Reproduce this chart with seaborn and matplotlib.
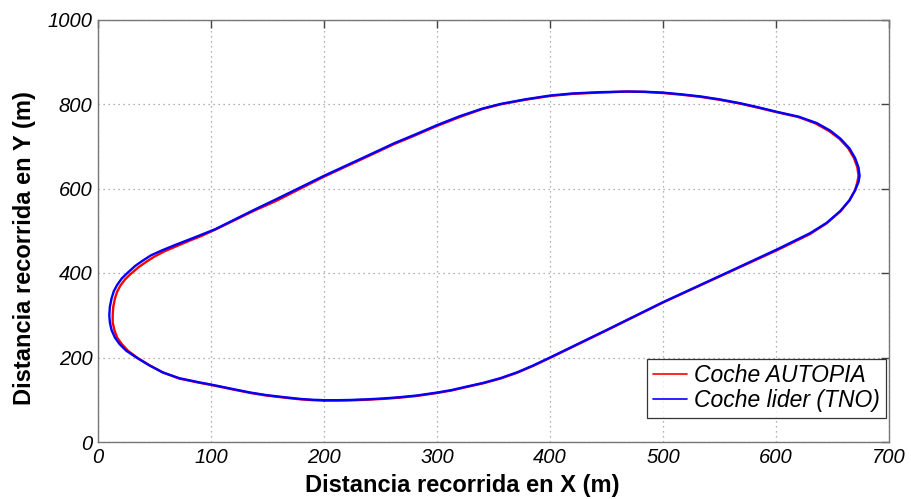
import numpy as np
import pandas as pd
import matplotlib
matplotlib.use("Agg")
import matplotlib.pyplot as plt
import seaborn as sns

# Trajectory of the leader car (TNO)
tno_x = [200, 212, 223, 238, 252, 267, 282, 300, 313, 326, 341, 356, 371, 385, 400, 450, 500, 556,
         601, 630, 645, 657, 665, 670, 673, 674, 673, 670, 665, 657, 648, 636, 620, 600, 583, 568,
         550, 533, 516, 500, 484, 468, 444, 420, 400, 378, 356, 340, 320, 300, 280, 262, 238, 200,
         158, 137, 104, 90, 80, 68, 57, 47, 40, 33, 26, 21, 17, 14, 12, 10.5, 10, 10.5, 12, 15,
         19, 25, 34, 45, 57, 72, 90, 100, 120, 135, 149, 165, 179, 190, 200]
tno_y = [99, 99, 99.5, 101, 103, 106, 110, 117, 123, 131, 140, 151, 165, 181, 200, 265, 331, 400,
         456, 494, 519, 547, 572, 596, 615, 630, 650, 672, 695, 718, 737, 755, 770, 782, 793, 802,
         811, 818, 823, 827, 829, 829.5, 828, 825, 820, 811, 800, 789, 771, 750, 727, 707, 677, 630,
         575, 548, 504, 489, 478.5, 466, 454, 442, 430, 417, 400, 387, 372, 357, 340, 320, 300, 283, 265, 247,
         232, 216, 200, 182, 165, 151, 141, 136, 125, 117, 111, 106, 102, 100, 99]

# Trajectory of the AUTOPIA car
aut_x = [200, 212, 223, 238, 252, 267, 282, 300, 313, 326, 341, 356, 371, 385, 400, 450, 500, 556,
         601, 630, 645, 657, 665, 670, 672, 673, 672, 669, 664, 656, 647, 635, 620, 600, 583, 568,
         550, 533, 516, 500, 484, 468, 444, 420, 400, 378, 356, 340, 320, 300, 280, 262, 238, 200,
         158, 137, 104, 91, 81, 70, 59, 50, 43, 36, 29, 24, 20, 17, 15, 13.5, 13, 13, 14.5, 17,
         21, 26.5, 35, 46, 58, 72, 90, 100, 120, 135, 149, 165, 179, 190, 200]
aut_y = [98, 98, 98.5, 100, 102, 105, 109, 116, 122, 130, 139, 150, 164, 180, 199, 264, 330, 399,
         454, 492, 518, 546, 572, 596, 615, 630, 650, 672, 695, 718, 736, 754, 769, 781, 792, 801,
         810, 817, 822, 826, 828.5, 829.5, 827, 824, 819, 810, 799, 788, 769, 748, 725, 705, 675, 628,
         571, 546, 503, 487, 476.5, 464, 451.5, 439, 427, 414, 398, 385, 371, 356, 340, 320, 300, 283, 265, 247,
         232, 216, 199, 181, 164, 150, 140, 135, 124, 116, 110, 105, 101, 99, 98]

labels = ["Coche AUTOPIA", "Coche lider (TNO)"]
x_ticks = [0, 100, 200, 300, 400, 500, 600, 700]
y_ticks = [0, 200, 400, 600, 800, 1000]

df = pd.concat([
    pd.DataFrame({"x": aut_x, "y": aut_y, "serie": labels[0]}),
    pd.DataFrame({"x": tno_x, "y": tno_y, "serie": labels[1]}),
], ignore_index=True)

sns.set_style("white")
plt.rcParams['font.family'] = ['Liberation Sans', 'DejaVu Sans']
plt.rcParams['text.color'] = 'black'
plt.rcParams['axes.labelcolor'] = 'black'
plt.rcParams['xtick.color'] = 'black'
plt.rcParams['ytick.color'] = 'black'

fig = plt.figure(figsize=(9.11, 4.99), dpi=100)
ax = fig.add_axes([98/911, 57/499, (889-98)/911, (442-19.5)/499])

sns.lineplot(data=df, x="x", y="y", hue="serie", sort=False, estimator=None,
             palette={labels[0]: "#ff0000", labels[1]: "#0000ff"},
             linewidth=1.7, ax=ax, legend=True)

ax.set_xlim(0, 700)
ax.set_ylim(0, 1000)
ax.set_xticks(x_ticks)
ax.set_yticks(y_ticks)
ax.set_xticklabels([str(v) for v in x_ticks], fontstyle='italic', fontsize=14.5)
ax.set_yticklabels([str(v) for v in y_ticks], fontstyle='italic', fontsize=14.5)
ax.tick_params(direction='in', length=6, width=1, color='#444444', top=True, right=True,
               pad=4)
ax.grid(True, linestyle=(0, (1, 3)), color='#999999', linewidth=0.9)
for s in ax.spines.values():
    s.set_color('#777777')
    s.set_linewidth(1.0)

ax.set_xlabel("Distancia recorrida en X (m)", fontsize=17, fontweight='bold')
ax.set_ylabel("Distancia recorrida en Y (m)", fontsize=17, fontweight='bold')
ax.xaxis.set_label_coords(0.46, -0.075)
ax.yaxis.set_label_coords(-0.079, 0.46)

leg = ax.legend(loc='lower right', bbox_to_anchor=(0.996, 0.057), frameon=True,
                fancybox=False, edgecolor='black', fontsize=16.5, handlelength=1.5,
                borderpad=0.25, labelspacing=0.08, handletextpad=0.3, borderaxespad=0)
leg.get_frame().set_linewidth(0.9)
for t in leg.get_texts():
    t.set_fontstyle('italic')
for h in leg.get_lines():
    h.set_linewidth(1.2)

fig.savefig("out.png", dpi=100)
